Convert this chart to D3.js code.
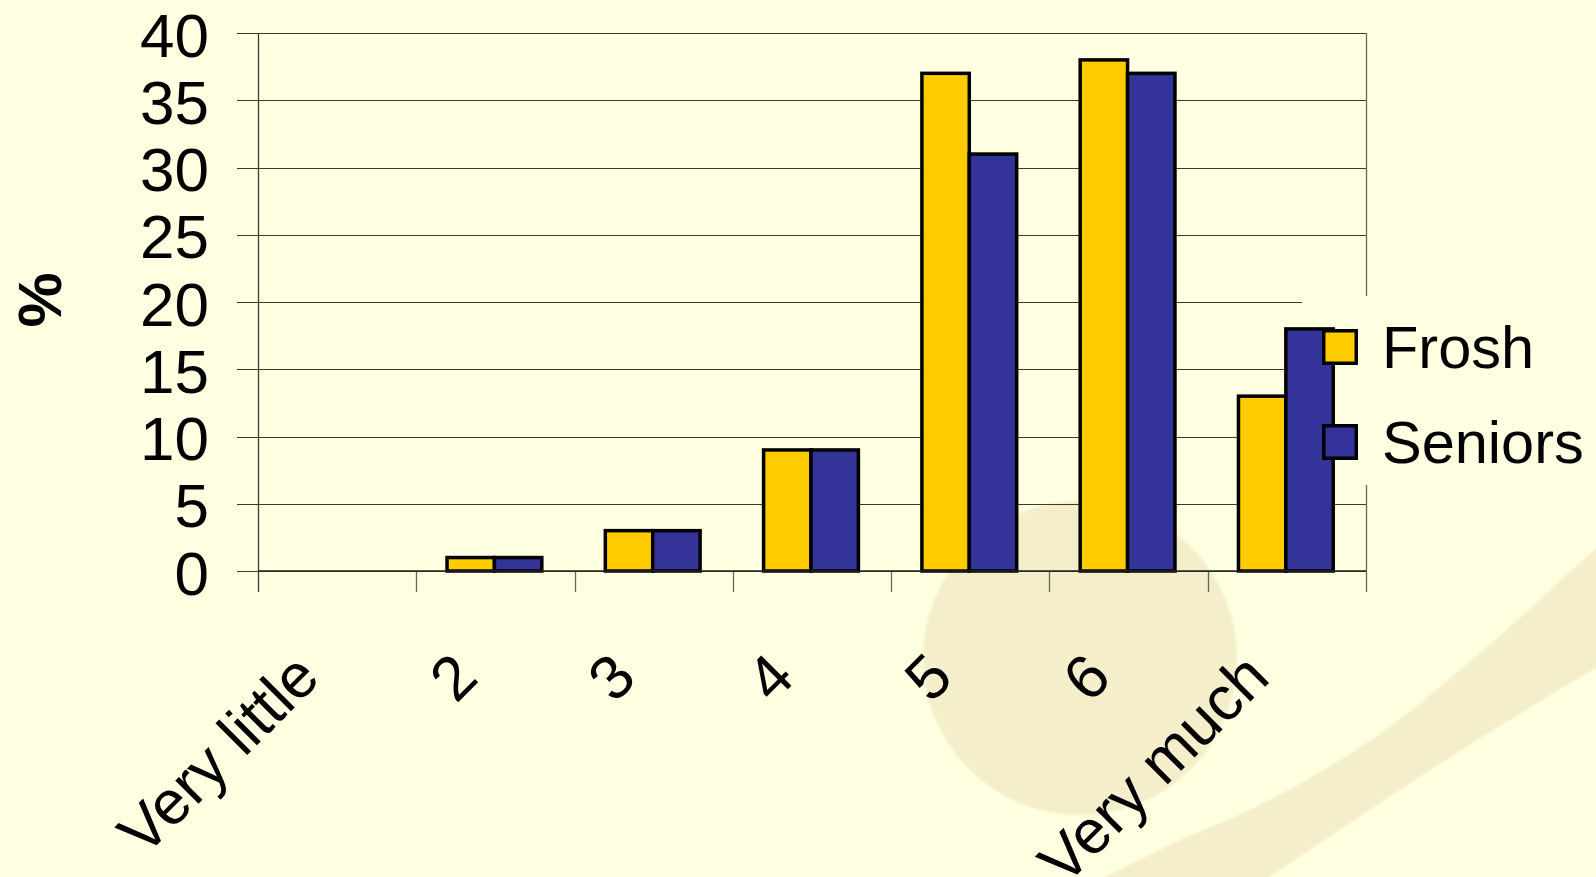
<!DOCTYPE html>
<html>
<head>
<meta charset="utf-8">
<script src="https://cdn.jsdelivr.net/npm/d3@7"></script>
<style>
  html, body { margin: 0; padding: 0; background: #FFFFE1; overflow: hidden; }
  svg { display: block; }
  text { font-family: "Liberation Sans", Arial, Helvetica, sans-serif; fill: #000; }
</style>
</head>
<body>
<svg id="chart" width="1596" height="877"></svg>
<script>
// Survey responses, percent of each group
const categories = ["Very little", "2", "3", "4", "5", "6", "Very much"];
const seriesNames = ["Frosh", "Seniors"];
const froshValues = [0, 1, 3, 9, 37, 38, 13];
const seniorValues = [0, 1, 3, 9, 31, 37, 18];
const yTicks = [0, 5, 10, 15, 20, 25, 30, 35, 40];
const seriesColors = ["#FFCC00", "#333399"];

const W = 1596, H = 877;
const bg = "#FFFFE1";
const deco = "#F4EECB";

const svg = d3.select("#chart");

// soft edge for the slide decoration
const defs = svg.append("defs");
defs.append("filter").attr("id", "soft")
  .append("feGaussianBlur").attr("stdDeviation", 1.2);

// ---- slide background decoration ----
svg.append("rect").attr("width", W).attr("height", H).attr("fill", bg);
const decoLayer = svg.append("g").attr("filter", "url(#soft)");
decoLayer.append("circle").attr("cx", 1080).attr("cy", 658).attr("r", 157).attr("fill", deco);

const upperEdge = [[1640, 508], [1596, 548], [1480, 653], [1374, 738], [1260, 805], [1174, 843], [1080, 890]];
const lowerEdge = [[1235, 900], [1341, 829], [1474, 742], [1596, 668], [1640, 643]];
const edgeLine = d3.line().curve(d3.curveCatmullRom.alpha(0.5));
decoLayer.append("path")
  .attr("d", edgeLine(upperEdge) + "L" + edgeLine(lowerEdge).slice(1) + "Z")
  .attr("fill", deco);

// ---- scales ----
const plot = { left: 258, right: 1366, top: 33, bottom: 571 };
const x0 = d3.scaleBand().domain(categories).range([plot.left, plot.right]).padding(0);
const x1 = d3.scaleBand().domain(seriesNames).range([0, x0.bandwidth()])
  .paddingInner(0).paddingOuter(0.67);
const y = d3.scaleLinear().domain([0, 40]).range([plot.bottom, plot.top]);

const lineColor = "#3a3a32";

// gridlines with left tick marks
svg.append("g").selectAll("line").data(yTicks).join("line")
  .attr("x1", plot.left - 21).attr("x2", plot.right)
  .attr("y1", d => Math.round(y(d)) + 0.5).attr("y2", d => Math.round(y(d)) + 0.5)
  .attr("stroke", lineColor).attr("stroke-width", 1.2);

// category tick marks at band boundaries (right border included)
const boundaries = categories.map(c => x0(c)).concat([plot.right]);
svg.append("g").selectAll("line").data(boundaries).join("line")
  .attr("x1", d => Math.round(d) + 0.5).attr("x2", d => Math.round(d) + 0.5)
  .attr("y1", (d, i) => (i === 0 || i === boundaries.length - 1) ? plot.top : plot.bottom)
  .attr("y2", plot.bottom + 21)
  .attr("stroke", (d, i) => i === 0 ? lineColor : "#66665a").attr("stroke-width", 1.3);

// value axis labels
svg.append("g").selectAll("text").data(yTicks).join("text")
  .attr("x", 209).attr("y", d => y(d)).attr("dy", "0.38em")
  .attr("text-anchor", "end").attr("font-size", 62)
  .text(d => d);

// axis title
svg.append("text")
  .attr("transform", "translate(61,300) rotate(-90)")
  .attr("text-anchor", "middle").attr("font-size", 62).attr("font-weight", "bold")
  .text("%");

// legend backing (hides gridlines behind the legend)
svg.append("rect").attr("x", 1302).attr("y", 296).attr("width", W - 1302).attr("height", 189)
  .attr("fill", bg);

// bars
const rows = categories.map((c, i) => ({ cat: c, vals: [froshValues[i], seniorValues[i]] }));
const groups = svg.append("g").selectAll("g").data(rows).join("g")
  .attr("transform", d => `translate(${x0(d.cat) - 1},0)`);
groups.selectAll("rect")
  .data(d => d.vals.map((v, j) => ({ key: seriesNames[j], v, j })).filter(e => e.v > 0))
  .join("rect")
  .attr("x", d => x1(d.key))
  .attr("width", x1.bandwidth())
  .attr("y", d => y(d.v))
  .attr("height", d => y(0) - y(d.v))
  .attr("fill", d => seriesColors[d.j])
  .attr("stroke", "#000").attr("stroke-width", 3.5).attr("stroke-linejoin", "miter");

// baseline
svg.append("line")
  .attr("x1", plot.left).attr("x2", plot.right)
  .attr("y1", plot.bottom).attr("y2", plot.bottom)
  .attr("stroke", "#222").attr("stroke-width", 1.6);

// category labels, rotated
svg.append("g").selectAll("text").data(categories).join("text")
  .attr("transform", d => `translate(${x0(d) + x0.bandwidth() / 2 - 15},680) rotate(-45)`)
  .attr("text-anchor", "end").attr("font-size", 62)
  .text(d => d);

// legend
const legend = svg.append("g").selectAll("g").data(seriesNames).join("g")
  .attr("transform", (d, i) => `translate(1322,${329 + i * 95})`);
legend.append("rect")
  .attr("x", 1.75).attr("y", 1.75).attr("width", 32.5).attr("height", 32.5)
  .attr("fill", (d, i) => seriesColors[i])
  .attr("stroke", "#000").attr("stroke-width", 3.5);
legend.append("text")
  .attr("x", 60).attr("y", 18).attr("dy", "0.35em")
  .attr("font-size", 59.5)
  .text(d => d);
</script>
</body>
</html>
